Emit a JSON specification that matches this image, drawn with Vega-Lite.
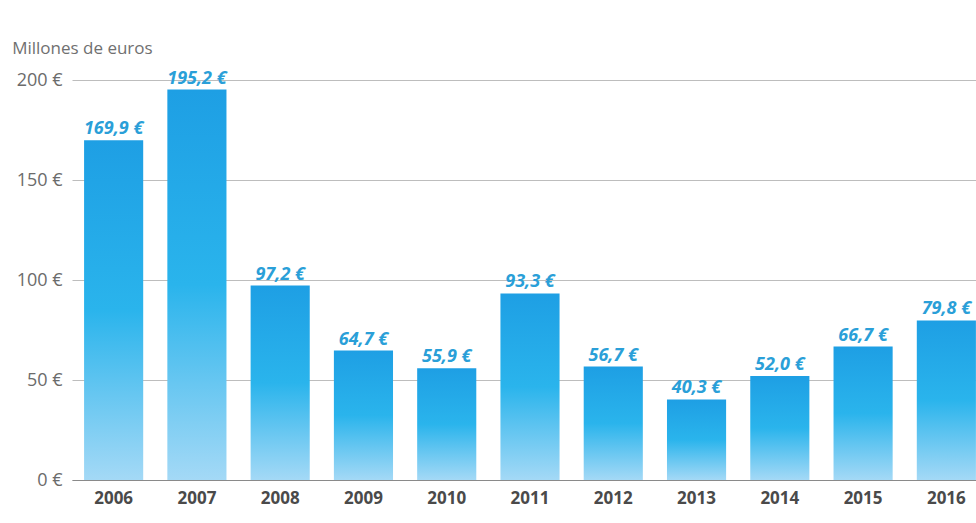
{
  "$schema": "https://vega.github.io/schema/vega-lite/v6.json",
  "autosize": "none",
  "width": 904,
  "height": 400,
  "padding": {"left": 72, "top": 80, "right": 0, "bottom": 43},
  "background": "white",
  "title": {
    "text": "Millones de euros",
    "anchor": "start",
    "frame": "bounds",
    "orient": "top",
    "offset": 12,
    "dx": -4,
    "font": "Open Sans",
    "fontSize": 17,
    "fontWeight": "normal",
    "color": "#707070"
  },
  "config": {
    "view": {"stroke": null},
    "font": "Open Sans"
  },
  "data": {
    "values": [
      {"year": "2006", "value": 169.9, "label": "169,9 €"},
      {"year": "2007", "value": 195.2, "label": "195,2 €"},
      {"year": "2008", "value": 97.2, "label": "97,2 €"},
      {"year": "2009", "value": 64.7, "label": "64,7 €"},
      {"year": "2010", "value": 55.9, "label": "55,9 €"},
      {"year": "2011", "value": 93.3, "label": "93,3 €"},
      {"year": "2012", "value": 56.7, "label": "56,7 €"},
      {"year": "2013", "value": 40.3, "label": "40,3 €"},
      {"year": "2014", "value": 52.0, "label": "52,0 €"},
      {"year": "2015", "value": 66.7, "label": "66,7 €"},
      {"year": "2016", "value": 79.8, "label": "79,8 €"}
    ]
  },
  "encoding": {
    "x": {
      "field": "year",
      "type": "ordinal",
      "scale": {"range": [0, 916], "paddingInner": 0.29, "paddingOuter": 0.145},
      "axis": {
        "title": null,
        "labelAngle": 0,
        "labelFont": "Open Sans",
        "labelFontSize": 17,
        "labelFontWeight": "bold",
        "labelColor": "#4a4a4a",
        "labelPadding": 10,
        "ticks": false,
        "domain": true,
        "domainColor": "#8a8a8a",
        "domainWidth": 1.2
      }
    },
    "y": {
      "field": "value",
      "type": "quantitative",
      "scale": {"domain": [0, 200]},
      "axis": {
        "title": null,
        "values": [0, 50, 100, 150, 200],
        "labelExpr": "datum.value + ' €'",
        "labelFont": "Open Sans",
        "labelFontSize": 18,
        "labelColor": "#6b6b6b",
        "labelPadding": 10,
        "ticks": false,
        "domain": false,
        "gridColor": "#bdbdbd",
        "gridWidth": 1
      }
    }
  },
  "layer": [
    {
      "mark": {
        "type": "bar",
        "clip": false,
        "color": {
          "gradient": "linear",
          "x1": 0, "y1": 0, "x2": 0, "y2": 1,
          "stops": [
            {"offset": 0, "color": "#1e9fe4"},
            {"offset": 0.5, "color": "#2ab4ec"},
            {"offset": 1, "color": "#a4d9f6"}
          ]
        }
      }
    },
    {
      "mark": {
        "type": "text",
        "clip": false,
        "baseline": "alphabetic",
        "dy": -6,
        "font": "Open Sans",
        "fontSize": 18,
        "fontWeight": "bold",
        "fontStyle": "italic",
        "color": "#2a9fd8"
      },
      "encoding": {"text": {"field": "label"}}
    }
  ]
}
